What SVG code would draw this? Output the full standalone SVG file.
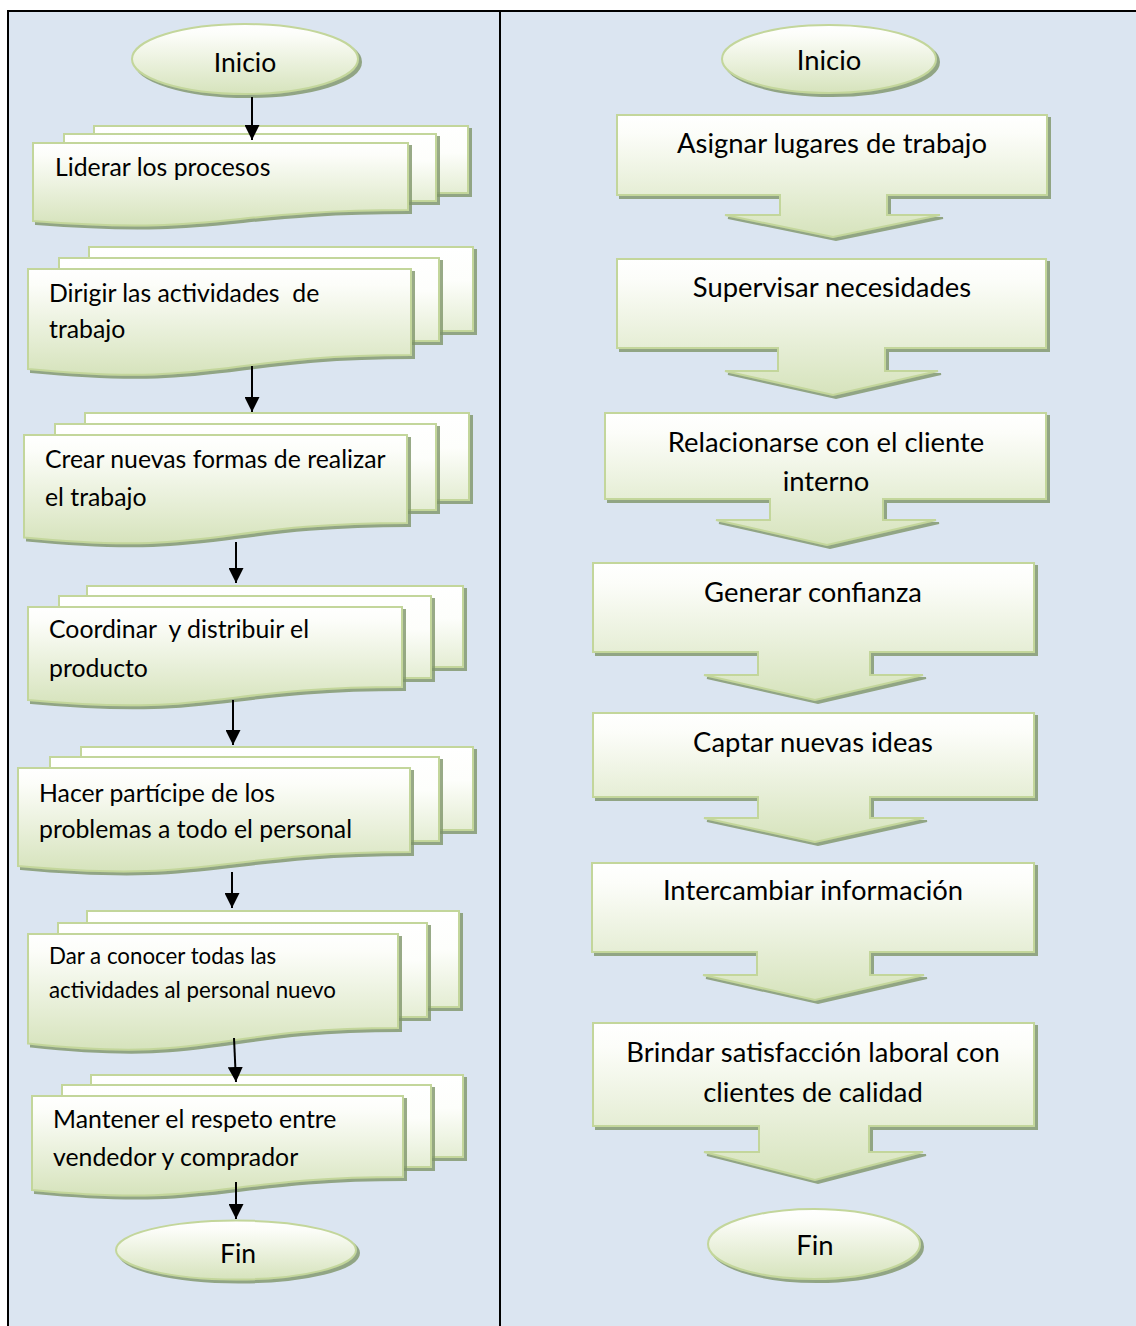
<svg xmlns="http://www.w3.org/2000/svg" width="1136" height="1326" viewBox="0 0 1136 1326">
<style>
.sh{fill:url(#g);stroke:#C3D69B;stroke-width:2;filter:url(#ds)}
.bk{fill:url(#g2);stroke:#C3D69B;stroke-width:2;filter:url(#ds)}
text{white-space:pre}
.t{font-family:Lato,"Open Sans",sans-serif;font-size:24.8px;fill:#000}
.ts{font-family:Lato,"Open Sans",sans-serif;font-size:22.3px;fill:#000}
.tr{font-family:Lato,"Open Sans",sans-serif;font-size:27.4px;fill:#000;text-anchor:middle}
.ar{stroke:#000;stroke-width:2;fill:none;marker-end:url(#ah)}
</style>
<defs>
<linearGradient id="g" x1="0" y1="0" x2="0" y2="1">
<stop offset="0" stop-color="#FFFFFF"/><stop offset="0.15" stop-color="#FCFDF9"/><stop offset="1" stop-color="#D6E3BC"/>
</linearGradient>
<linearGradient id="g2" x1="0" y1="0" x2="0" y2="1">
<stop offset="0" stop-color="#FFFFFF"/><stop offset="0.4" stop-color="#FDFEFB"/><stop offset="1" stop-color="#E4EDD3"/>
</linearGradient>
<filter id="ds" x="-10%" y="-10%" width="130%" height="140%">
<feDropShadow dx="3" dy="3" stdDeviation="0.6" flood-color="#7F9469" flood-opacity="0.8"/>
</filter>
<marker id="ah" viewBox="0 0 10 10" refX="10" refY="5" markerWidth="7.5" markerHeight="7.5" orient="auto" markerUnits="strokeWidth">
<path d="M0,0 L10,5 L0,10 Z" fill="#000"/>
</marker>
</defs>
<rect x="0" y="0" width="1136" height="1326" fill="#FFFFFF"/>
<rect x="8" y="11" width="1140" height="1330" fill="#DBE5F1" stroke="#000" stroke-width="2"/>
<line x1="500" y1="11" x2="500" y2="1326" stroke="#000" stroke-width="2"/>

<g id="l-inicio">
<ellipse class="sh" cx="245" cy="59" rx="113" ry="35"/>
<text class="tr" x="245" y="72" style="font-size:26.5px">Inicio</text>
</g>
<g id="l-n1">
<rect class="bk" x="94" y="126" width="374" height="67"/>
<rect class="bk" x="64" y="134" width="372" height="67"/>
<path class="sh" d="M33,143 H408 V210 C220.5,210 220.5,235.5 33,221 Z"/>
<text class="t" x="55" y="176">Liderar los procesos</text>
</g>
<g id="l-n2">
<rect class="bk" x="89" y="247" width="384" height="84"/>
<rect class="bk" x="59" y="258" width="380" height="83"/>
<path class="sh" d="M28,269 H411 V355 C219.5,355 219.5,387.7 28,369 Z"/>
<text class="t" x="49" y="302">Dirigir las actividades  de</text>
<text class="t" x="49" y="338">trabajo</text>
</g>
<g id="l-n3">
<rect class="bk" x="85" y="413" width="384" height="87"/>
<rect class="bk" x="55" y="424" width="381" height="86"/>
<path class="sh" d="M24,435 H407 V523 C215.5,523 215.5,556.4 24,537.5 Z"/>
<text class="t" x="45" y="468">Crear nuevas formas de realizar</text>
<text class="t" x="45" y="506">el trabajo</text>
</g>
<g id="l-n4">
<rect class="bk" x="87" y="586" width="376" height="81"/>
<rect class="bk" x="59" y="596" width="372" height="82"/>
<path class="sh" d="M28,607 H402 V687 C215,687 215,717.4 28,700 Z"/>
<text class="t" x="49" y="638">Coordinar  y distribuir el</text>
<text class="t" x="49" y="677">producto</text>
</g>
<g id="l-n5">
<rect class="bk" x="81" y="747" width="392" height="83"/>
<rect class="bk" x="50" y="757" width="389" height="84"/>
<path class="sh" d="M18,768 H410 V852 C214,852 214,883.9 18,866 Z"/>
<text class="t" x="39" y="802">Hacer partícipe de los</text>
<text class="t" x="39" y="838">problemas a todo el personal</text>
</g>
<g id="l-n6">
<rect class="bk" x="87" y="911" width="372" height="96"/>
<rect class="bk" x="58" y="923" width="369" height="94"/>
<path class="sh" d="M28,934 H398 V1028 C213,1028 213,1063.7 28,1043.5 Z"/>
<text class="ts" x="49" y="964">Dar a conocer todas las</text>
<text class="ts" x="49" y="998">actividades al personal nuevo</text>
</g>
<g id="l-n7">
<rect class="bk" x="91" y="1075" width="372" height="82"/>
<rect class="bk" x="62" y="1085" width="369" height="82"/>
<path class="sh" d="M32,1096 H403 V1177 C217.5,1177 217.5,1207.8 32,1190 Z"/>
<text class="t" x="53" y="1128">Mantener el respeto entre</text>
<text class="t" x="53" y="1166">vendedor y comprador</text>
</g>
<g id="l-fin">
<ellipse class="sh" cx="236" cy="1250" rx="120" ry="29.5"/>
<text class="tr" x="238" y="1263" style="font-size:26.5px">Fin</text>
</g>

<g id="r-inicio">
<ellipse class="sh" cx="829" cy="59" rx="107" ry="34"/>
<text class="tr" x="829" y="70">Inicio</text>
</g>
<g id="r-b1">
<path class="sh" d="M617,115 H1047 V195 H887 V215 H940 L833,237 L725,215 H780 V195 H617 Z"/>
<text class="tr" x="832" y="153">Asignar lugares de trabajo</text>
</g>
<g id="r-b2">
<path class="sh" d="M617,259 H1046 V348 H885 V371 H938 L833,395 L725,371 H778 V348 H617 Z"/>
<text class="tr" x="832" y="297">Supervisar necesidades</text>
</g>
<g id="r-b3">
<path class="sh" d="M605,413 H1046 V499 H883 V520 H936 L827,545 L716,520 H770 V499 H605 Z"/>
<text class="tr" x="826" y="452">Relacionarse con el cliente</text>
<text class="tr" x="826" y="491">interno</text>
</g>
<g id="r-b4">
<path class="sh" d="M593,563 H1034 V652 H870 V675 H923 L815,700 L704,675 H758 V652 H593 Z"/>
<text class="tr" x="813" y="602">Generar confianza</text>
</g>
<g id="r-b5">
<path class="sh" d="M593,713 H1034 V797 H870 V818 H924 L815,842 L704,818 H758 V797 H593 Z"/>
<text class="tr" x="813" y="752">Captar nuevas ideas</text>
</g>
<g id="r-b6">
<path class="sh" d="M592,863 H1034 V952 H870 V975 H924 L815,1000 L703,975 H757 V952 H592 Z"/>
<text class="tr" x="813" y="900">Intercambiar información</text>
</g>
<g id="r-b7">
<path class="sh" d="M593,1023 H1034 V1126 H869 V1152 H923 L815,1180 L704,1152 H759 V1126 H593 Z"/>
<text class="tr" x="813" y="1062">Brindar satisfacción laboral con</text>
<text class="tr" x="813" y="1102">clientes de calidad</text>
</g>
<g id="r-fin">
<ellipse class="sh" cx="814" cy="1244" rx="106" ry="35"/>
<text class="tr" x="815" y="1255">Fin</text>
</g>

<g id="connectors">
<line class="ar" x1="252" y1="97" x2="252" y2="140"/>
<line class="ar" x1="252" y1="366" x2="252" y2="412"/>
<line class="ar" x1="236" y1="542" x2="236" y2="583"/>
<line class="ar" x1="233" y1="700" x2="233" y2="745"/>
<line class="ar" x1="232" y1="872" x2="232" y2="908"/>
<line class="ar" x1="234" y1="1038" x2="236" y2="1082"/>
<line class="ar" x1="236" y1="1182" x2="236" y2="1219"/>
</g>
</svg>
